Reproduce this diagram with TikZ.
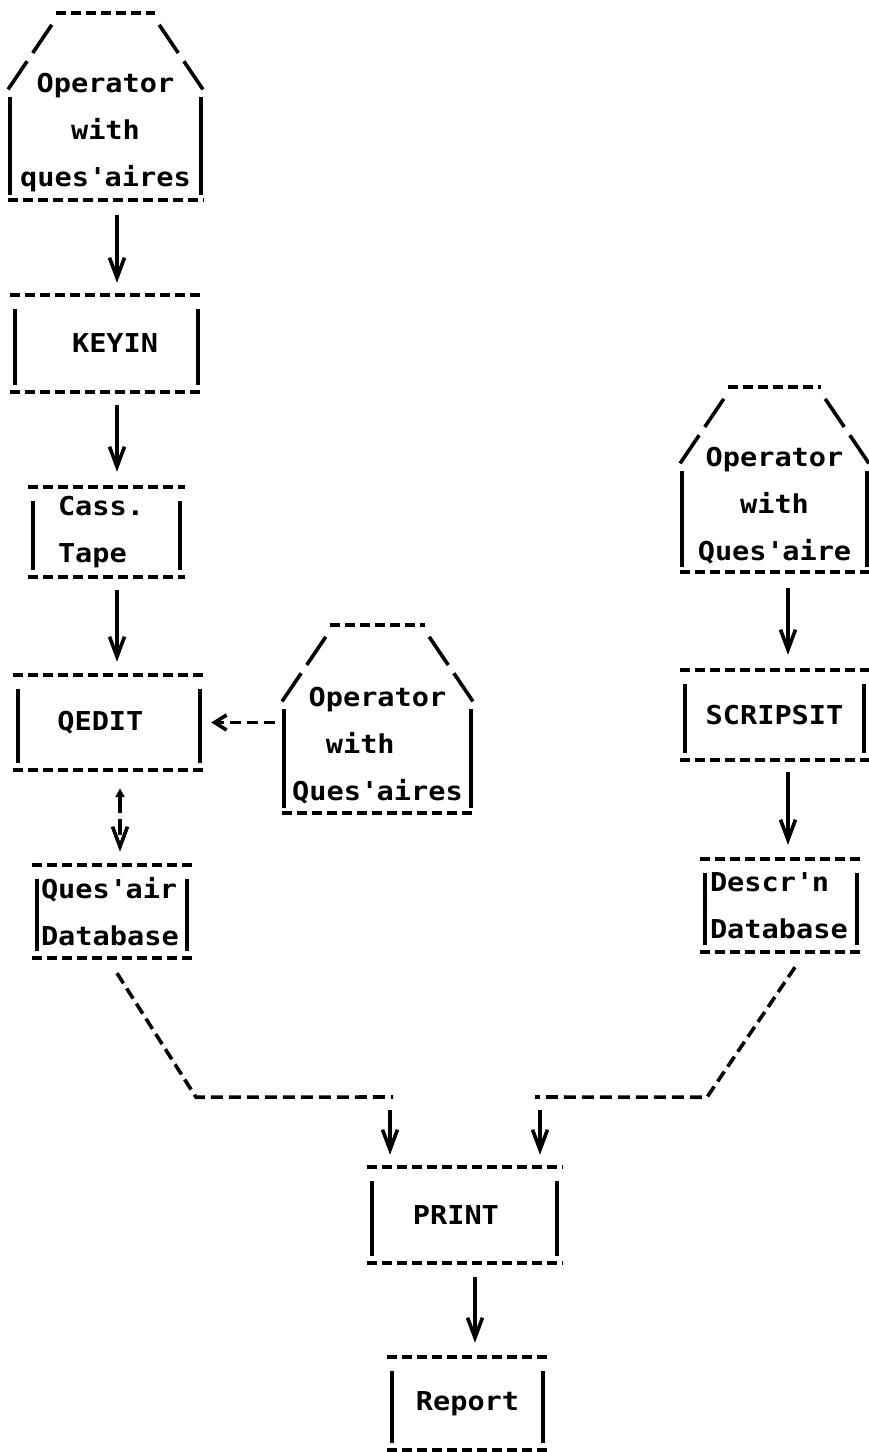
\documentclass[tikz,border=0pt]{standalone}
\usepackage{fontspec}
\usepackage{tikz}
\usetikzlibrary{arrows.meta, calc}
\newfontfamily\dotfont[FakeStretch=1.1]{DejaVu Sans Mono}
\newcommand{\apos}{\textquotesingle}
\tikzstyle{termbox} = [rectangle, inner sep=0pt, text centered, align=center, font=\dotfont\bfseries\fontsize{26pt}{47pt}\selectfont]
\tikzstyle{dashrule} = [line width=3.6pt, dash pattern=on 10pt off 5pt]
\tikzstyle{slashrule} = [line width=3.6pt, dash pattern=on 34pt off 10pt]
\tikzstyle{siderule} = [line width=3.6pt]
\tikzstyle{linkrule} = [line width=3.6pt, dash pattern=on 12pt off 6pt]
\tikzstyle{arrow} = [line width=3.6pt, -{Straight Barb[length=20pt, width=15pt]}]
\tikzstyle{dasharrow} = [line width=3.6pt, dash pattern=on 11pt off 6pt, -{Straight Barb[length=12pt, width=15pt]}]
\tikzstyle{twoway} = [line width=3.6pt, dash pattern=on 16pt off 6pt, {Triangle[length=9pt, width=9pt]}-{Straight Barb[length=20pt, width=15pt]}]
\newcommand{\asciibox}[1]{%
  \draw[dashrule] (#1.north west) -- (#1.north east);
  \draw[dashrule] (#1.south west) -- (#1.south east);
  \draw[siderule] ([xshift=5pt,yshift=-14pt]#1.north west) -- ([xshift=5pt,yshift=7pt]#1.south west);
  \draw[siderule] ([xshift=-5pt,yshift=-14pt]#1.north east) -- ([xshift=-5pt,yshift=7pt]#1.south east);
}
\newcommand{\asciihouse}[1]{%
  \draw[dashrule] ([xshift=48pt,yshift=53pt]#1.north west) -- ([xshift=-48pt,yshift=53pt]#1.north east);
  \draw[slashrule] ([xshift=44pt,yshift=41pt]#1.north west) -- ([yshift=-24pt]#1.north west);
  \draw[slashrule] ([xshift=-44pt,yshift=41pt]#1.north east) -- ([yshift=-24pt]#1.north east);
  \draw[siderule] ([xshift=2pt,yshift=-31pt]#1.north west) -- ([xshift=2pt,yshift=5pt]#1.south west);
  \draw[siderule] ([xshift=-2pt,yshift=-31pt]#1.north east) -- ([xshift=-2pt,yshift=5pt]#1.south east);
  \draw[dashrule] (#1.south west) -- (#1.south east);
}

\begin{document}
\begin{tikzpicture}[x=1pt, y=-1pt]
		\useasboundingbox (0,0) rectangle (869,1452);
		\coordinate (colL) at (117,0);
		\coordinate (colQ) at (120,0);
		\coordinate (colR) at (788,0);
		\coordinate (colP) at (475,0);
		\coordinate (joinL) at (390,1097);
		\coordinate (joinR) at (540,1097);

		\node (opA) [termbox, minimum width=195pt, minimum height=134pt] at (105.5,133) {Operator\\with\\ques\apos aires};
		\node (keyin) [termbox, minimum width=193pt, minimum height=97pt] at (106.5,343.5) {\phantom{x}KEYIN};
		\node (cass) [termbox, align=left, text width=97pt, inner xsep=30pt, minimum height=90pt] at (106.5,532) {Cass.\\Tape};
		\node (qedit) [termbox, minimum width=192pt, minimum height=95pt] at (109,722.5) {QEDIT\phantom{x}};
		\node (opE) [termbox, minimum width=191pt, minimum height=135pt] at (377.5,745.5) {Operator\\with\phantom{xx}\\Ques\apos aires};
		\node (quesdb) [termbox, align=left, text width=142pt, inner xsep=9pt, minimum height=93pt] at (112,911.5) {Ques\apos air\\Database};
		\node (opH) [termbox, minimum width=189pt, minimum height=132pt] at (774.5,506) {Operator\\with\\Ques\apos aire};
		\node (scripsit) [termbox, minimum width=189pt, minimum height=90pt] at (774.5,715) {SCRIPSIT};
		\node (descdb) [termbox, align=left, text width=142pt, inner xsep=10pt, minimum height=93pt] at (781,905.5) {Descr\apos n\\Database};
		\node (print) [termbox, minimum width=195pt, minimum height=96pt] at (464.5,1215) {PRINT\phantom{x}};
		\node (report) [termbox, minimum width=161pt, minimum height=93pt] at (467.5,1403.5) {Report};

		\asciihouse{opA}
		\asciibox{keyin}
		\asciibox{cass}
		\asciibox{qedit}
		\asciihouse{opE}
		\asciibox{quesdb}
		\asciihouse{opH}
		\asciibox{scripsit}
		\asciibox{descdb}
		\asciibox{print}
		\asciibox{report}

		\draw [arrow]([yshift=-15pt]opA.south -| colL) -- ([yshift=12pt]keyin.north -| colL);
		\draw [arrow]([yshift=-13pt]keyin.south -| colL) -- ([yshift=15pt]cass.north -| colL);
		\draw [arrow]([yshift=-13pt]cass.south -| colL) -- ([yshift=13pt]qedit.north -| colL);
		\draw [twoway]([yshift=-18pt]qedit.south -| colQ) -- ([yshift=13pt]quesdb.north -| colQ);
		\draw [dasharrow]([xshift=-7pt]opE.west |- qedit.east) -- ([xshift=6pt]qedit.east);
		\draw [arrow]([yshift=-16pt]opH.south -| colR) -- ([yshift=15pt]scripsit.north -| colR);
		\draw [arrow]([yshift=-12pt]scripsit.south -| colR) -- ([yshift=14pt]descdb.north -| colR);
		\draw [linkrule]([xshift=5pt,yshift=-15pt]quesdb.south) -- ++(79,124) -- ([xshift=3pt]joinL);
		\draw [linkrule]([xshift=14pt,yshift=-15pt]descdb.south) -- ++(-88,130) -- ([xshift=-5pt]joinR);
		\draw [arrow]([yshift=-13pt]joinL) -- ([yshift=12pt]print.north -| joinL);
		\draw [arrow]([yshift=-13pt]joinR) -- ([yshift=12pt]print.north -| joinR);
		\draw [arrow]([yshift=-14pt]print.south -| colP) -- ([yshift=14pt]report.north -| colP);
	\end{tikzpicture}
\end{document}
